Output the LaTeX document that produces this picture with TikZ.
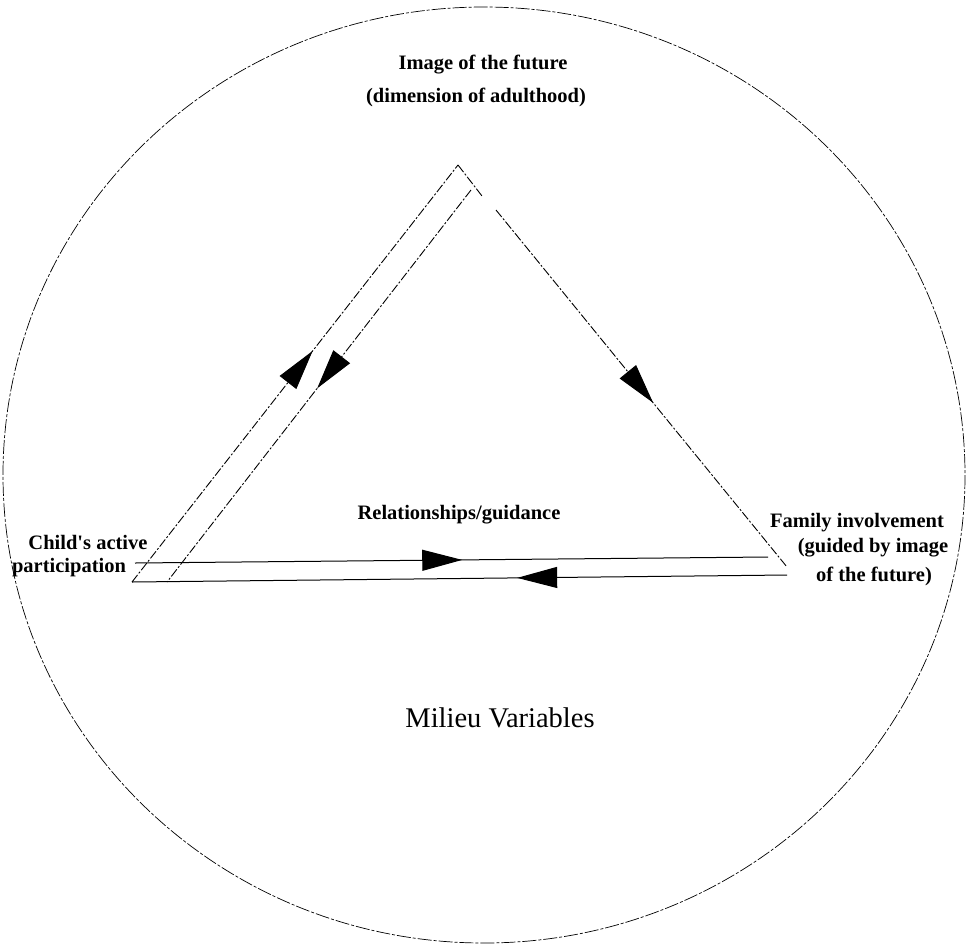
\documentclass[tikz,border=0pt]{standalone}
\usepackage{fontspec}
\setmainfont{Liberation Serif}
\usetikzlibrary{decorations.markings,arrows.meta}
\begin{document}
\begin{tikzpicture}[x=1pt,y=-1pt,
  lbl/.style={font=\fontsize{20.5}{23}\selectfont\bfseries, inner sep=0pt, anchor=base},
  bigl/.style={font=\fontsize{28.5}{32}\selectfont, inner sep=0pt, anchor=base},
  frame/.style={line width=0.7pt, dash pattern=on 14pt off 2pt on 3pt off 2pt},
  diag/.style={line width=0.9pt, dash pattern=on 9pt off 2pt on 2pt off 2pt},
  hline/.style={line width=1pt},
  arrowat/.style={postaction={decorate}, decoration={markings,
      mark=at position #1 with {\arrow{Triangle[length=40pt,width=21pt]}}}}
]
\useasboundingbox (0,0) rectangle (966,943);

% milieu circle
\draw[frame] (484,475) ellipse [x radius=481, y radius=468];

% corner coordinates
\coordinate (apex) at (458,165);
\coordinate (apexcap) at (482,196);
\coordinate (intop) at (471,190);
\coordinate (rtop) at (496,210);
\coordinate (rbot) at (787,567);
\coordinate (outbl) at (132,582);
\coordinate (inbl) at (167,582);
\coordinate (htl) at (135,563);
\coordinate (htr) at (768,557);
\coordinate (hbr) at (787,575);

% triangle sides
\draw[diag, arrowat=0.554] (outbl) -- (apex);
\draw[diag] (apex) -- (apexcap);
\draw[diag, arrowat=0.506] (intop) -- (inbl);
\draw[diag, arrowat=0.54] (rtop) -- (rbot);
\draw[hline, arrowat=0.517] (htl) -- (htr);
\draw[hline, arrowat=0.412] (hbr) -- (outbl);

% labels
\node[lbl] (img1) at (483,69) {Image of the future};
\node[lbl] (img2) at (476,102) {(dimension of adulthood)};
\node[lbl] (rel) at (459,519) {Relationships/guidance};
\node[lbl] (child1) at (88,549) {Child\textquotesingle s active};
\node[lbl] (child2) at (69,572) {participation};
\node[lbl] (fam1) at (857,527) {Family involvement};
\node[lbl] (fam2) at (873,552) {(guided by image};
\node[lbl] (fam3) at (874,581) {of the future)};
\node[bigl] (mil) at (500,727) {Milieu Variables};
\end{tikzpicture}
\end{document}
